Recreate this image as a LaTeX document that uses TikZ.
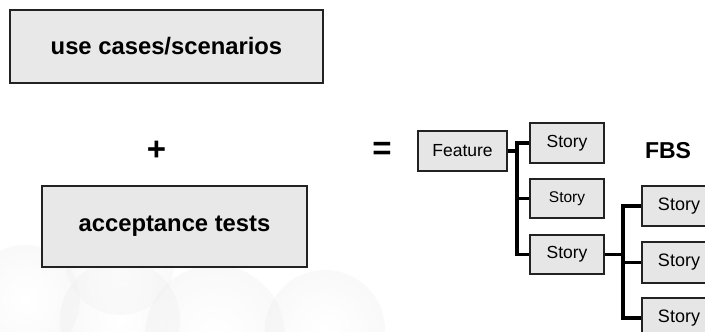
\documentclass[tikz,border=0pt]{standalone}
\usepackage{fontspec}
\setmainfont{Liberation Sans}
\definecolor{boxfill}{HTML}{E8E8E8}
\definecolor{storyfill}{HTML}{E6E6E6}
\definecolor{edge}{HTML}{222222}
\begin{document}
\begin{tikzpicture}[x=1pt,y=-1pt,
  bigbox/.style={draw=edge,line width=1.6pt,fill=boxfill,inner sep=0pt,
    font=\fontsize{23.8}{26}\selectfont\bfseries},
  smallbox/.style={draw=edge,line width=1.4pt,fill=storyfill,inner sep=0pt,
    font=\fontsize{17.5}{20}\selectfont},
  conn/.style={line width=3.8pt,black},
  sym/.style={inner sep=0pt,font=\fontsize{33}{36}\selectfont\bfseries}]
\useasboundingbox[clip] (0,0) rectangle (705,332);
% faint background spheres
\begin{scope}[opacity=0.35]
\shade[inner color=white,outer color=black!7] (25,300) circle[radius=55];
\shade[inner color=white,outer color=black!8] (120,320) circle[radius=60];
\shade[inner color=white,outer color=black!7] (215,335) circle[radius=70];
\shade[inner color=white,outer color=black!7] (325,330) circle[radius=60];
\shade[inner color=white,outer color=black!6] (120,260) circle[radius=55];
\end{scope}
% left boxes
\node[bigbox,minimum width=313pt,minimum height=73pt] (uc) at (166.5,46.5) {use cases/scenarios};
\node[bigbox,minimum width=265pt,minimum height=81pt] (at) at (174.5,226.5) {acceptance tests};
\node[sym] (plus) at (156.5,151) {+};
\node[sym] (eq) at (382,151) {=};
\node[inner sep=0pt,font=\fontsize{23}{26}\selectfont\bfseries] (fbs) at (668,151) {FBS};
% tree
\node[smallbox,minimum width=89pt,minimum height=40pt] (feat) at (462.5,151) {Feature};
\node[smallbox,minimum width=74pt,minimum height=40pt] (s1) at (567,143) {Story};
\node[smallbox,minimum width=74pt,minimum height=39pt,font=\fontsize{15.5}{18}\selectfont] (s2) at (567,198.5) {Story};
\node[smallbox,minimum width=74pt,minimum height=39pt] (s3) at (567,254.5) {Story};
\node[smallbox,minimum width=74pt,minimum height=40pt,font=\fontsize{18}{20}\selectfont] (s4) at (679,206) {Story};
\node[smallbox,minimum width=74pt,minimum height=41pt,font=\fontsize{18}{20}\selectfont] (s5) at (679,262.5) {Story};
\node[smallbox,minimum width=74pt,minimum height=40pt,font=\fontsize{18}{20}\selectfont] (s6) at (679,318) {Story};
\coordinate (j1) at (517,151);
\coordinate (j2) at (623,254.5);
\draw[conn] (feat.east) -- (j1);
\draw[conn] (s1.west) -- (s1.west -| j1) -- (s3.west -| j1) -- (s3.west);
\draw[conn] (s2.west) -- (s2.west -| j1);
\draw[conn] (s3.east) -- (j2);
\draw[conn] (s4.west) -- (s4.west -| j2) -- (s6.west -| j2) -- (s6.west);
\draw[conn] (s5.west) -- (s5.west -| j2);
\end{tikzpicture}
\end{document}
